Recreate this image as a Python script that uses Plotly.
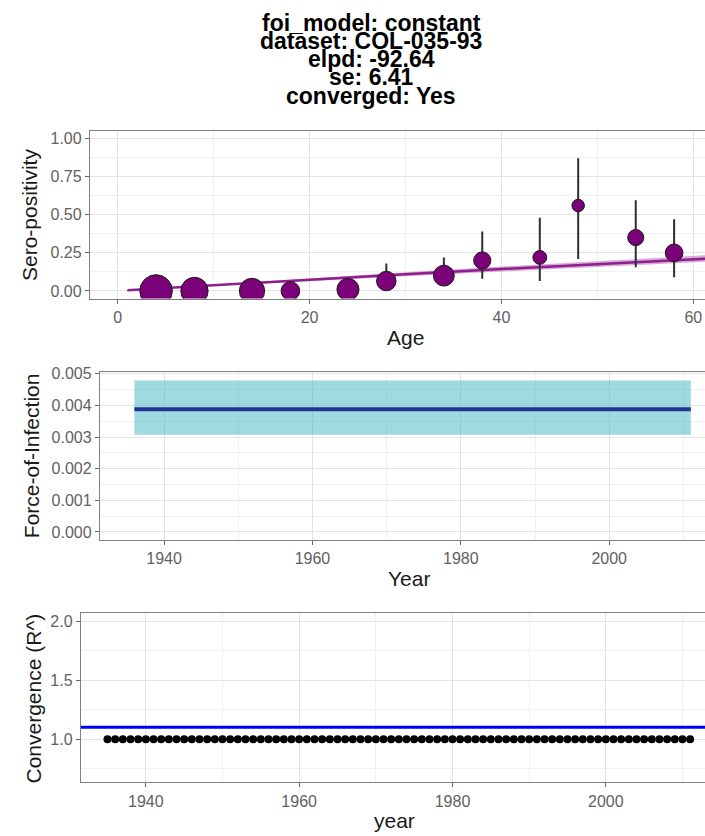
import plotly.graph_objects as go

# ---------------- data ----------------
title_lines = ["foi_model: constant", "dataset: COL-035-93", "elpd: -92.64", "se: 6.41", "converged: Yes"]

# Observed sero-positivity by age group
obs_age = [4, 8, 14, 18, 24, 28, 34, 38, 44, 48, 54, 58]
obs_prev = [0.0, 0.0, 0.0, 0.0, 0.01, 0.065, 0.10, 0.20, 0.22, 0.56, 0.35, 0.25]
obs_lower = [0.0, 0.0, 0.0, 0.0, 0.0, 0.01, 0.04, 0.08, 0.065, 0.21, 0.156, 0.09]
obs_upper = [0.03, 0.03, 0.04, 0.05, 0.05, 0.18, 0.22, 0.39, 0.48, 0.87, 0.595, 0.47]
obs_n = [61, 43, 37, 20, 28, 22, 25, 17, 11, 9, 15, 18]

# Fitted sero-prevalence curve
fit_age = [1, 10, 20, 30, 40, 50, 60, 65]
fit_prev = [0.004, 0.038, 0.075, 0.110, 0.144, 0.177, 0.209, 0.224]
fit_lower = [0.003, 0.033, 0.066, 0.097, 0.128, 0.157, 0.188, 0.202]
fit_upper = [0.005, 0.043, 0.084, 0.123, 0.160, 0.197, 0.231, 0.247]

# Force of infection (constant model)
foi_years = list(range(1936, 2012))
foi_median = 0.00388
foi_lower = 0.00307
foi_upper = 0.00479

# Convergence
rhat_years = list(range(1935, 2012))
rhat_values = [1.0] * len(rhat_years)
rhat_threshold = 1.1

# ---------------- figure ----------------
W, H = 705, 836
FONT = "Liberation Sans, Arial, Helvetica, sans-serif"
TICK_FONT = dict(family=FONT, size=16, color="#616161")
TITLE_FONT = dict(family=FONT, size=21, color="#1a1a1a")

def px_x(p):
    return p / W

def px_y(p):
    return 1 - p / H

fig = go.Figure()

# --- top panel ---
fig.add_trace(go.Scatter(x=fit_age, y=fit_upper, mode="lines", line=dict(width=0),
                         showlegend=False, hoverinfo="skip", xaxis="x", yaxis="y"))
fig.add_trace(go.Scatter(x=fit_age, y=fit_lower, mode="lines", line=dict(width=0),
                         fill="tonexty", fillcolor="rgba(186,100,186,0.55)",
                         showlegend=False, hoverinfo="skip", xaxis="x", yaxis="y"))
fig.add_trace(go.Scatter(x=fit_age, y=fit_prev, mode="lines",
                         line=dict(color="#8e1f8e", width=2.5),
                         showlegend=False, xaxis="x", yaxis="y"))
# error bars (drawn beneath the points)
fig.add_trace(go.Scatter(
    x=obs_age, y=obs_prev, mode="markers", marker=dict(size=1, opacity=0),
    error_y=dict(type="data", symmetric=False,
                 array=[u - p for u, p in zip(obs_upper, obs_prev)],
                 arrayminus=[p - l for p, l in zip(obs_prev, obs_lower)],
                 thickness=2, width=0, color="#2e2e2e"),
    showlegend=False, hoverinfo="skip", xaxis="x", yaxis="y"))
fig.add_trace(go.Scatter(
    x=obs_age, y=obs_prev, mode="markers",
    marker=dict(size=obs_n, sizemode="area", sizeref=61 / 23.0 ** 2, opacity=1,
                color="#7a0177", line=dict(color="#1a1a1a", width=1)),
    showlegend=False, xaxis="x", yaxis="y"))

# --- middle panel ---
fig.add_trace(go.Scatter(x=foi_years, y=[foi_upper] * len(foi_years), mode="lines",
                         line=dict(width=0), showlegend=False, hoverinfo="skip",
                         xaxis="x2", yaxis="y2"))
fig.add_trace(go.Scatter(x=foi_years, y=[foi_lower] * len(foi_years), mode="lines",
                         line=dict(width=0), fill="tonexty",
                         fillcolor="rgba(65,182,196,0.5)", showlegend=False,
                         hoverinfo="skip", xaxis="x2", yaxis="y2"))
fig.add_trace(go.Scatter(x=foi_years, y=[foi_median] * len(foi_years), mode="lines",
                         line=dict(color="#253494", width=4),
                         showlegend=False, xaxis="x2", yaxis="y2"))

# --- bottom panel ---
fig.add_trace(go.Scatter(x=rhat_years, y=rhat_values, mode="markers",
                         marker=dict(size=8, color="black"),
                         showlegend=False, xaxis="x3", yaxis="y3"))
fig.add_shape(type="line", xref="x3 domain", yref="y3", x0=0, x1=1,
              y0=rhat_threshold, y1=rhat_threshold,
              line=dict(color="#0000ff", width=3))

grid_major = "#e3e3e3"
grid_minor = "#f1f1f1"
border = "#808080"

def xaxis(domain, rng, dtick, minor_dtick, anchor):
    return dict(domain=domain, range=rng, anchor=anchor, dtick=dtick, tick0=0,
                showgrid=True, gridcolor=grid_major, gridwidth=1,
                minor=dict(dtick=minor_dtick, tick0=0, showgrid=True,
                           gridcolor=grid_minor, gridwidth=0.7),
                zeroline=False, showline=True, linecolor=border, linewidth=1.3,
                mirror=True, ticks="outside", ticklen=4, tickcolor="#666666",
                tickfont=TICK_FONT)

def yaxis(domain, rng, tickvals, fmt, minor_dtick, anchor, tick0=0):
    return dict(domain=domain, range=rng, anchor=anchor, tickvals=tickvals,
                tickformat=fmt, showgrid=True, gridcolor=grid_major, gridwidth=1,
                minor=dict(dtick=minor_dtick, tick0=tick0, showgrid=True,
                           gridcolor=grid_minor, gridwidth=0.7),
                zeroline=False, showline=True, linecolor=border, linewidth=1.3,
                ticks="outside", ticklen=4, tickcolor="#666666",
                tickfont=TICK_FONT)

fig.update_layout(
    width=W, height=H,
    margin=dict(l=0, r=0, t=0, b=0),
    paper_bgcolor="white", plot_bgcolor="white",
    xaxis=xaxis([px_x(90), 1], [-2.89, 61.22], 20, 10, "y"),
    yaxis=yaxis([px_y(294.4), px_y(125.0)], [-0.05, 1.05],
                [0, 0.25, 0.5, 0.75, 1.0], ".2f", 0.125, "x"),
    xaxis2=xaxis([px_x(100), 1], [1931.37, 2012.91], 20, 10, "y2"),
    yaxis2=yaxis([px_y(537.7), px_y(369.0)], [-0.00024, 0.00504],
                 [0, 0.001, 0.002, 0.003, 0.004, 0.005], ".3f", 0.0005, "x2"),
    xaxis3=xaxis([px_x(80.9), 1], [1931.53, 2012.94], 20, 10, "y3"),
    yaxis3=yaxis([px_y(782.8), px_y(612.2)], [0.635, 2.065],
                 [1.0, 1.5, 2.0], ".1f", 0.5, "x3", tick0=0.75),
)

annotations = []
title_centers = [16.0, 34.5, 52.5, 71.0, 90.0]
for txt, cy in zip(title_lines, title_centers):
    annotations.append(dict(text="<b>" + txt + "</b>", x=px_x(371), y=px_y(cy),
                            xref="paper", yref="paper", showarrow=False,
                            xanchor="center", yanchor="middle", borderpad=0,
                            font=dict(family=FONT, size=23, color="black")))

axis_titles = [
    ("Sero-positivity", 30, 210, -90),
    ("Age", 405, 334, 0),
    ("Force-of-Infection", 31.5, 453, -90),
    ("Year", 409, 577, 0),
    ("Convergence (R^)", 33.7, 698.5, -90),
    ("year", 394, 821, 0),
]
for txt, x, y, ang in axis_titles:
    annotations.append(dict(text=txt, x=px_x(x), y=px_y(y), xref="paper", yref="paper",
                            showarrow=False, xanchor="center", yanchor="middle",
                            textangle=ang, font=TITLE_FONT))

fig.update_layout(annotations=annotations)

fig.write_html("out.html", config={"displayModeBar": False},
               post_script="document.body.style.margin='0';document.body.style.overflow='hidden';")
